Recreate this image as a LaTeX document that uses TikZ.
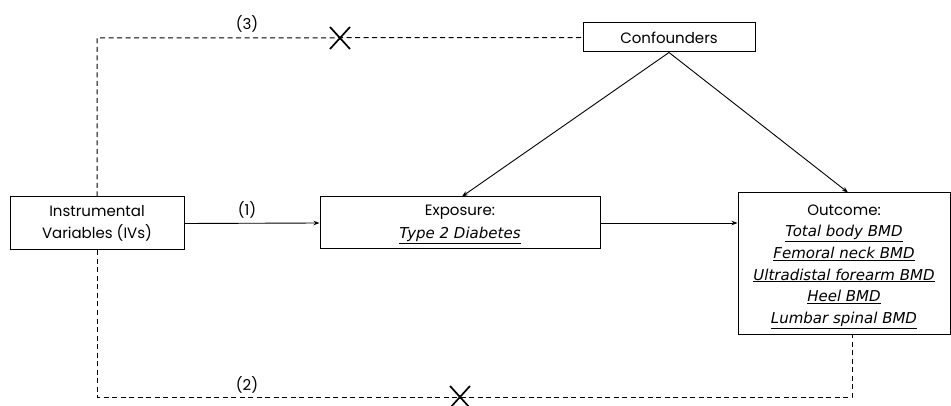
\documentclass[tikz,border=0pt]{standalone}
\usepackage{fontspec}
\setmainfont{Poppins}
\newfontfamily\itfam{DejaVu Sans}
\usetikzlibrary{arrows.meta,calc}
\newcommand{\ul}[1]{\underline{\itfam\itshape #1}}
\begin{document}
\begin{tikzpicture}[x=1pt,y=-1pt,
  box/.style={draw,line width=1pt,inner sep=0pt,font=\fontsize{15}{22.5}\selectfont,align=center},
  txt/.style={inner sep=0pt,font=\fontsize{15}{21.6}\selectfont,align=center},
  arr/.style={line width=0.9pt,-{Stealth[length=6pt,width=4.5pt]}},
  dashline/.style={line width=1pt,dash pattern=on 5pt off 3.5pt},
  lab/.style={font=\fontsize{15}{17}\selectfont},
  cross/.style={line width=1.7pt}]
\useasboundingbox (0,0) rectangle (951,406);
\node[box,minimum width=174pt,minimum height=53pt] (iv) at (97,223.5) {Instrumental\\Variables (IVs)};
\node[box,minimum width=280pt,minimum height=52pt] (exp) at (460,223) {};
\node[txt] (exptxt) at (460,224.5) {Exposure:\\[2pt]\ul{Type 2 Diabetes}};
\node[box,minimum width=212pt,minimum height=141pt] (out) at (844,263.5) {};
\node[txt] (outtxt) at (844,266.5) {Outcome:\\\ul{Total body BMD}\\\ul{Femoral neck BMD}\\\ul{Ultradistal forearm BMD}\\\ul{Heel BMD}\\\ul{Lumbar spinal BMD}};
\node[box,minimum width=172pt,minimum height=29pt] (conf) at (669,37.5) {Confounders};
\coordinate (tl) at (97,38);
\coordinate (bl) at (97,397);
\coordinate (br) at (852,397);
\draw[arr] (iv.east) -- (exp.west);
\draw[arr] (exp.east) -- (out.west |- exp.east);
\draw[arr] (conf.south) -- (exp.north -| 462,0);
\draw[arr] (conf.south) -- (out.north -| 848,0);
\draw[dashline] (iv.north) -- (tl) -- (conf.west);
\draw[dashline] (iv.south) -- (bl) -- (br) -- (br |- out.south);
\node[lab] (l1) at (247,210) {(1)};
\node[lab] (l3) at (247,24) {(3)};
\node[lab] (l2) at (247,385) {(2)};
\coordinate (x3) at (340,38);
\coordinate (x2) at (460,397);
\draw[cross] ($(x3)+(-10,-11)$) -- ($(x3)+(10,11)$) ($(x3)+(-10,11)$) -- ($(x3)+(10,-11)$);
\draw[cross] ($(x2)+(-10,-11)$) -- ($(x2)+(10,11)$) ($(x2)+(-10,11)$) -- ($(x2)+(10,-11)$);
\end{tikzpicture}
\end{document}
